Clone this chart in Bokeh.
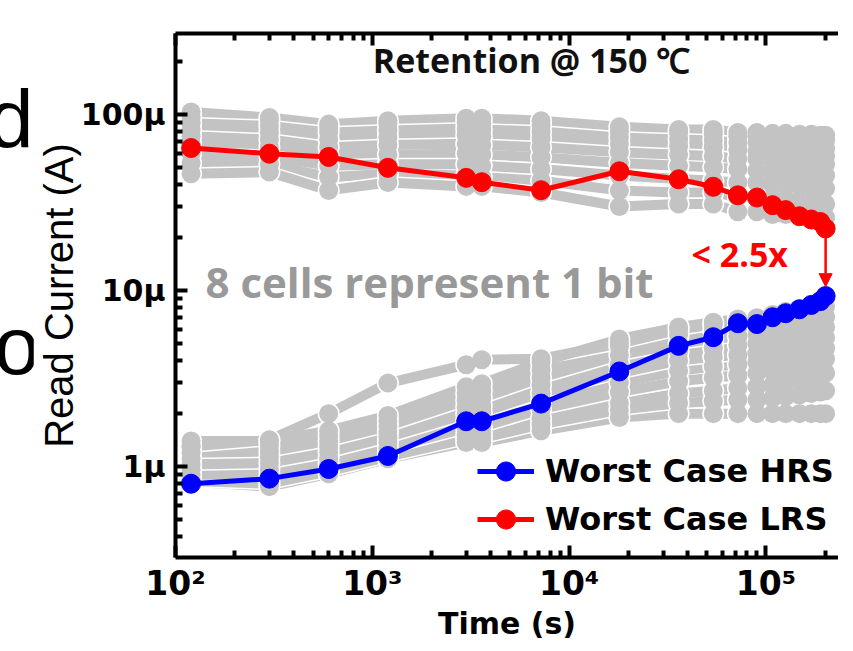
from bokeh.plotting import figure
from bokeh.layouts import row
from bokeh.models import (LogAxis, FixedTicker, Range1d, Label, Legend, LegendItem,
                          Arrow, NormalHead, Div)
from bokeh.embed import file_html
from bokeh.resources import INLINE

# ---------------- data (time in s, current in uA) ----------------
times = [120, 300, 600, 1200, 3000, 3600, 7200, 18000, 36000, 54000,
         72000, 90000, 108000, 126000, 148000, 170000, 189000, 201000]

worst_lrs = [64.4, 59.8, 57.3, 49.7, 43.6, 41.2, 37.1, 47.5, 42.8, 38.8,
             34.7, 33.7, 30.5, 28.6, 26.4, 25.3, 24.5, 22.5]
worst_hrs = [0.80, 0.855, 0.97, 1.15, 1.81, 1.81, 2.28, 3.47, 4.85, 5.43,
             6.52, 6.45, 7.05, 7.43, 7.82, 8.28, 8.7, 9.3]

lrs_cells = [
    [103, 96, 88, 92, 95, 95, 92, 85, 82, 82, 79, 79, 78, 78, 77, 77, 76, 76],
    [96, 92, 84, 88, 90, 89, 87, 80, 78, 77, 75, 75, 74, 74, 73, 72, 72, 71],
    [89, 86, 79, 81, 83, 82, 80, 74, 72, 71, 69, 69, 68, 67, 66, 66, 65, 64],
    [82, 79, 72, 74, 76, 75, 73, 68, 66, 65, 63, 62, 62, 61, 60, 60, 59, 58],
    [75, 72, 65, 67, 68, 67, 65, 61, 59, 58, 56, 56, 55, 54, 54, 53, 52, 52],
    [68, 65, 58, 59, 60, 59, 57, 53, 51, 50, 49, 48, 47, 47, 46, 46, 45, 45],
    [60, 58, 51, 52, 52, 51, 49, 45, 43, 42, 41, 41, 40, 40, 39, 39, 38, 38],
    [53, 52, 44, 46, 45, 44, 42, 37, 36, 36, 34, 34, 33, 33, 32, 32, 31, 31],
    [46, 47, 37, 41, 39, 39, 36, 30, 31, 31, 28, 28, 27, 27, 27, 26, 26, 26],
]
hrs_cells = [
    [0.82, 0.77, 0.91, 1.11, 1.37, 1.37, 1.60, 1.9, 2.0, 2.0, 2.0, 2.0, 2.0, 2.0, 2.0, 2.0, 2.0, 2.0],
    [0.83, 0.80, 0.94, 1.14, 1.44, 1.45, 1.74, 2.1, 2.3, 2.35, 2.4, 2.4, 2.45, 2.5, 2.55, 2.6, 2.65, 2.7],
    [0.85, 0.83, 0.97, 1.18, 1.51, 1.53, 1.88, 2.3, 2.6, 2.7, 2.8, 2.85, 2.9, 3.0, 3.1, 3.2, 3.3, 3.4],
    [0.90, 0.90, 1.04, 1.27, 1.66, 1.68, 2.12, 2.65, 3.05, 3.2, 3.3, 3.4, 3.5, 3.55, 3.65, 3.8, 3.9, 4.1],
    [0.96, 0.97, 1.12, 1.37, 1.82, 1.85, 2.36, 3.0, 3.5, 3.7, 3.8, 3.9, 4.0, 4.1, 4.2, 4.4, 4.5, 4.7],
    [1.03, 1.05, 1.21, 1.47, 1.99, 2.03, 2.62, 3.4, 4.0, 4.2, 4.3, 4.4, 4.5, 4.7, 4.8, 5.0, 5.2, 5.4],
    [1.11, 1.13, 1.30, 1.58, 2.18, 2.22, 2.90, 3.8, 4.5, 4.7, 4.9, 5.0, 5.1, 5.3, 5.5, 5.7, 5.9, 6.2],
    [1.20, 1.22, 1.40, 1.70, 2.38, 2.45, 3.20, 4.3, 5.0, 5.3, 5.5, 5.6, 5.8, 6.0, 6.3, 6.5, 6.8, 7.1],
    [1.30, 1.32, 1.50, 1.82, 2.60, 2.70, 3.55, 4.8, 5.6, 5.9, 6.2, 6.3, 6.5, 6.8, 7.1, 7.4, 7.7, 8.1],
    [1.30, 1.42, 2.00, 2.98, 3.79, 4.04, 4.10, 5.0, 6.0, 6.4, 6.8, 6.9, 7.2, 7.5, 7.8, 8.2, 8.6, 9.0],
    [1.40, 1.40, 1.60, 1.95, 2.84, 2.96, 3.93, 5.31, 6.2, 6.6, 6.9, 7.0, 7.3, 7.6, 7.9, 8.3, 8.7, 9.1],
]

x_major = [1e2, 1e3, 1e4, 1e5]
x_labels = ["10\u00b2", "10\u00b3", "10\u2074", "10\u2075"]
y_major = [1e-6, 1e-5, 1e-4]
y_labels = ["1\u03bc", "10\u03bc", "100\u03bc"]

UA = 1e-6
GRAY = "#c3c3c3"
STRIP_W = 33

p = figure(width=805, height=643, x_axis_type="log", y_axis_type="log",
           x_range=Range1d(100, 2.337e5), y_range=Range1d(3.05e-7, 2.877e-4),
           output_backend="svg", toolbar_location=None,
           min_border_left=137, min_border_right=0, min_border_top=33,
           min_border_bottom=85)
p.outline_line_color = None
p.grid.visible = False

# gray cells: lines first, then the bars of points with a white rim
all_cells = lrs_cells + hrs_cells
for i, series in enumerate(all_cells):
    ys = [v * UA for v in series]
    if i % 2 == 0:
        p.line(times, ys, line_color="white", line_width=13)
    p.line(times, ys, line_color=GRAY, line_width=10)
for series in all_cells:
    p.scatter(times, [v * UA for v in series], size=22, fill_color="white", line_color=None)
for series in all_cells:
    p.scatter(times, [v * UA for v in series], size=19, fill_color=GRAY, line_color=None)

# worst cases
blue_line = p.line(times, [v * UA for v in worst_hrs], line_color="#0000ff", line_width=5)
blue_pts = p.scatter(times, [v * UA for v in worst_hrs], size=19, fill_color="#0000ff", line_color="#0000ff")
red_line = p.line(times, [v * UA for v in worst_lrs], line_color="#ff0000", line_width=5)
red_pts = p.scatter(times, [v * UA for v in worst_lrs], size=19, fill_color="#ff0000", line_color="#ff0000")

# arrow between worst cases at last time
arr = Arrow(end=NormalHead(size=13, fill_color="#ff0000", line_color="#ff0000"),
            x_start=times[-1], y_start=worst_lrs[-1] * UA * 0.885,
            x_end=times[-1], y_end=worst_hrs[-1] * UA * 1.13,
            line_color="#ff0000", line_width=2.5)
p.add_layout(arr)

x_minor = [m * d for d in (1e2, 1e3, 1e4, 1e5) for m in range(2, 10)]
y_minor = [m * d for d in (1e-7, 1e-6, 1e-5, 1e-4) for m in range(2, 10)]

def fmt(ax):
    ax.axis_line_width = 4
    ax.axis_line_color = "black"
    ax.major_tick_in = 12
    ax.major_tick_out = 0
    ax.major_tick_line_width = 4
    ax.minor_tick_in = 7
    ax.minor_tick_out = 0
    ax.minor_tick_line_width = 4
    ax.major_label_text_font = "DejaVu Sans"
    ax.major_label_text_font_style = "bold"
    ax.major_label_text_font_size = "30px"
    ax.major_label_text_color = "black"
    ax.axis_label_text_color = "black"

xa = p.xaxis[0]
xa.ticker = FixedTicker(ticks=x_major, minor_ticks=x_minor)
xa.major_label_overrides = {t: l for t, l in zip(x_major, x_labels)}
fmt(xa)
xa.major_label_text_font_size = "33px"
xa.major_label_standoff = 6
xa.axis_label = "Time (s)"
xa.axis_label_text_font = "DejaVu Sans"
xa.axis_label_text_font_style = "bold"
xa.axis_label_text_font_size = "30px"
xa.axis_label_standoff = 0

ya = p.yaxis[0]
ya.ticker = FixedTicker(ticks=y_major, minor_ticks=y_minor)
ya.major_label_overrides = {t: l for t, l in zip(y_major, y_labels)}
fmt(ya)
ya.major_label_standoff = 10
ya.axis_label = "Read Current (A)"
ya.axis_label_text_font = "Liberation Sans"
ya.axis_label_text_font_style = "normal"
ya.axis_label_text_font_size = "40px"
ya.axis_label_standoff = -3

top = LogAxis(ticker=FixedTicker(ticks=x_major, minor_ticks=x_minor))
fmt(top)
top.major_label_text_font_size = "2px"
top.major_label_text_color = None
top.major_label_standoff = 0
p.add_layout(top, "above")

# texts
p.add_layout(Label(x=356, y=475, x_units="screen", y_units="screen",
                   text="Retention @ 150 \u2103", text_align="center",
                   text_font="Open Sans", text_font_style="bold",
                   text_font_size="34px", text_color="#111111"))
p.add_layout(Label(x=30, y=248, x_units="screen", y_units="screen",
                   text="8 cells represent 1 bit", text_font="Open Sans",
                   text_font_style="bold", text_font_size="42px",
                   text_color="#999999"))
p.add_layout(Label(x=516, y=281, x_units="screen", y_units="screen",
                   text="< 2.5x", text_font="Open Sans", text_font_style="bold",
                   text_font_size="34px", text_color="#ff0000"))

legend = Legend(items=[LegendItem(label="Worst Case HRS", renderers=[blue_line, blue_pts]),
                       LegendItem(label="Worst Case LRS", renderers=[red_line, red_pts])],
                location=(302, 14), background_fill_alpha=0, border_line_alpha=0,
                padding=0, margin=0, spacing=0, glyph_width=57, glyph_height=48,
                label_standoff=11, label_text_font="DejaVu Sans",
                label_text_font_style="bold", label_text_font_size="32px",
                label_text_color="black", label_height=48)
p.add_layout(legend)

# stray letters of neighbouring text at the far left of the crop
letter_css = ("position:absolute;font-family:'Liberation Sans',Arial,sans-serif;"
              "font-size:82px;line-height:82px;color:black;margin:0;padding:0;")
strip = Div(text=('<div style="position:relative;width:%dpx;height:643px;overflow:hidden;">'
                  '<span style="%sleft:-12px;top:78px;">d</span>'
                  '<span style="%sleft:-6px;top:305px;">o</span></div>')
                 % (STRIP_W + 7, letter_css, letter_css),
            width=STRIP_W, height=643, margin=0)

layout = row(strip, p, spacing=0)
open("out.html", "w").write(file_html(layout, INLINE))
